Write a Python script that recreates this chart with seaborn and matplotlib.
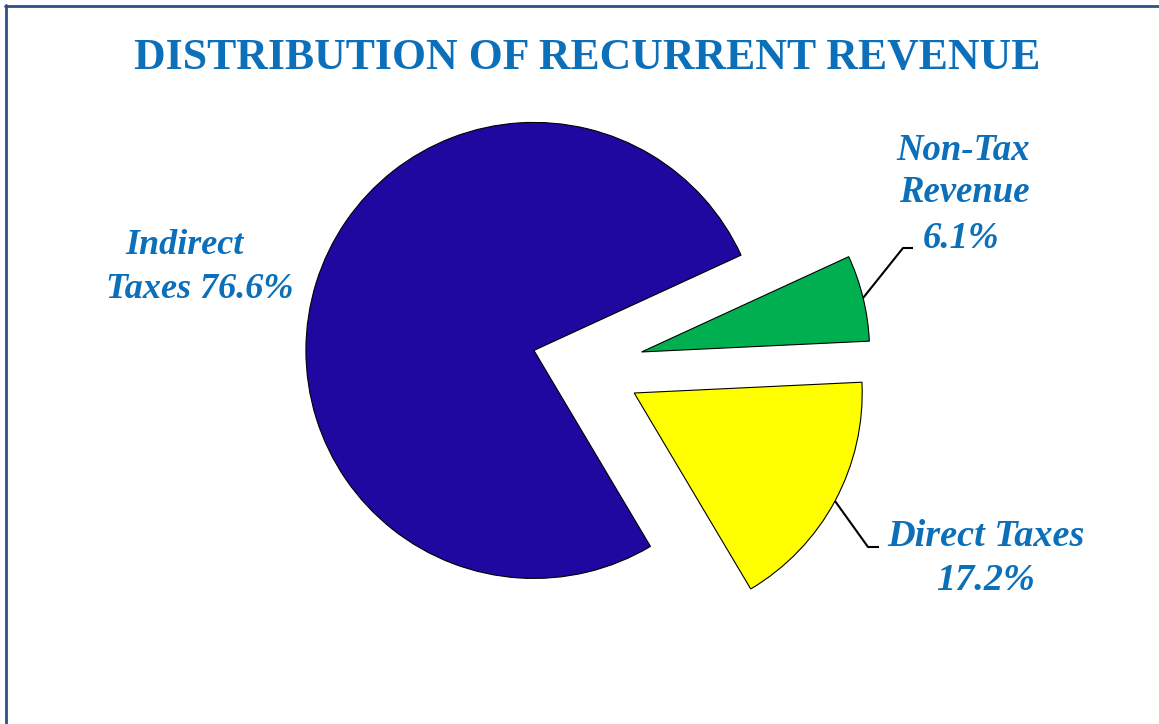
import matplotlib
matplotlib.use("Agg")
import matplotlib.pyplot as plt
import seaborn as sns
import numpy as np
from matplotlib.lines import Line2D

# ---- data ----
categories = ["Indirect Taxes", "Direct Taxes", "Non-Tax Revenue"]
shares = [76.6, 17.2, 6.1]
label_lines = [["Indirect", "Taxes 76.6%"], ["Direct Taxes", "17.2%"], ["Non-Tax", "Revenue", "6.1%"]]
title = "DISTRIBUTION OF RECURRENT REVENUE"

# ---- style / layout ----
slice_colors = ["#1e08a0", "#ffff00", "#00b050"]
text_color = "#0b6fba"
sns.set_theme(style="white")
plt.rcParams['font.family'] = ['Liberation Serif', 'DejaVu Serif']

W, H = 1159, 724
R_PX = 228.0
CX, CY = 584.0, 366.0  # pie centre in image pixels (y down)

fig = plt.figure(figsize=(W / 100, H / 100), dpi=100)
fig.patch.set_facecolor("white")
ax = fig.add_axes([0, 0, 1, 1])

wedges, _ = ax.pie(shares, colors=slice_colors, startangle=24.7, counterclock=True,
                   explode=[0.23, 0.25, 0.26], radius=1.0, center=(0, 0),
                   wedgeprops=dict(edgecolor="black", linewidth=0.8))
ax.set_xlim(-CX / R_PX, (W - CX) / R_PX)
ax.set_ylim(-(H - CY) / R_PX, CY / R_PX)
ax.set_aspect("equal", adjustable="box")
ax.axis("off")


def px_to_data(x, y):
    return ((x - CX) / R_PX, (CY - y) / R_PX)


def fx(x):
    return x / W


def fy(y):
    return 1 - y / H


# title
fig.text(fx(587), fy(58), title, ha="center", va="center", fontsize=31.5,
         fontweight="bold", color=text_color)

# labels (line centres in image pixels)
label_pos = [[(184, 245), (200, 290)], [(986, 537), (986, 580)], [(963, 150), (964, 193), (961, 238)]]
label_sizes = [26, 27.5, 26.5]
for lines, poss, fs in zip(label_lines, label_pos, label_sizes):
    for t, (x, y) in zip(lines, poss):
        fig.text(fx(x), fy(y), t, ha="center", va="center", fontsize=fs,
                 fontweight="bold", fontstyle="italic", color=text_color)

# leader lines from slice arc mid-points
elbows = {1: [(868, 547), (879, 547)], 2: [(903, 248), (913, 248)]}
for idx, pts in elbows.items():
    w = wedges[idx]
    th = np.deg2rad(0.5 * (w.theta1 + w.theta2))
    x0 = w.center[0] + w.r * np.cos(th)
    y0 = w.center[1] + w.r * np.sin(th)
    xs = [x0] + [px_to_data(*p)[0] for p in pts]
    ys = [y0] + [px_to_data(*p)[1] for p in pts]
    ax.plot(xs, ys, color="black", lw=1.5, solid_capstyle="butt")

# frame lines (top and left)
fig.add_artist(Line2D([fx(5), 1], [fy(6), fy(6)], color="#2d5283", lw=2.0))
fig.add_artist(Line2D([fx(6), fx(6)], [fy(5), 0], color="#2d5283", lw=2.0))

fig.savefig("out.png", dpi=100, facecolor="white")
